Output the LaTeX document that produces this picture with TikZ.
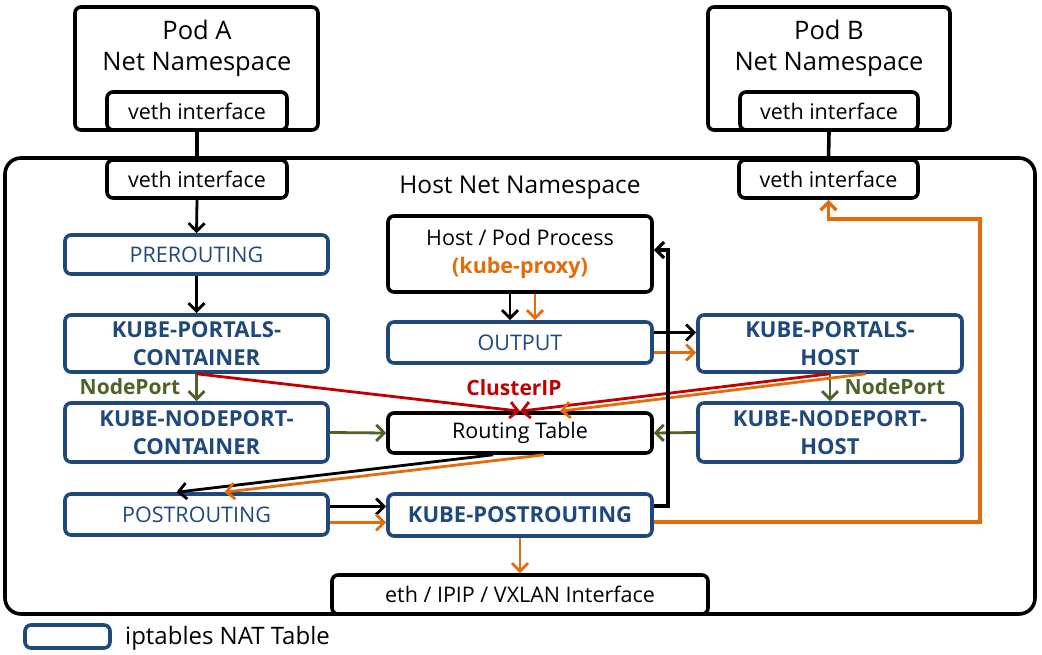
\documentclass[tikz,border=0pt]{standalone}
\usepackage{fontspec}
\setmainfont{Open Sans}
\usetikzlibrary{arrows.meta,calc}
\definecolor{natblue}{HTML}{1F497D}
\definecolor{orng}{HTML}{E46C0A}
\definecolor{redc}{HTML}{C00000}
\definecolor{grn}{HTML}{4F6228}
\begin{document}
\begin{tikzpicture}[x=1pt,y=-1pt,
  box/.style={draw=black, line width=3.6pt, rounded corners=6pt, fill=white, align=center, inner sep=0pt},
  natbox/.style={draw=natblue, line width=3.6pt, rounded corners=6pt, fill=white, text=natblue, align=center, inner sep=0pt},
  txt/.style={font=\fontsize{21.5}{26}\selectfont},
  btxt/.style={font=\fontsize{22}{28}\selectfont\bfseries},
  conn/.style={line width=2.8pt, -{Straight Barb[length=8pt,width=16pt]}},
  plain/.style={line width=3.6pt}
]
\useasboundingbox (0,0) rectangle (1042,655);
% pods
\node[box, minimum width=243pt, minimum height=123pt] (podA) at (196.5,68.5) {};
\node[font=\fontsize{25.5}{31}\selectfont, align=center] (podAlbl) at (197,48.5) {Pod A\\Net Namespace};
\node[box, txt, minimum width=180pt, minimum height=38pt] (podAveth) at (197,111) {veth interface};
\node[box, minimum width=242pt, minimum height=123pt] (podB) at (829,68.5) {};
\node[font=\fontsize{25.5}{31}\selectfont, align=center] (podBlbl) at (829,48.5) {Pod B\\Net Namespace};
\node[box, txt, minimum width=178pt, minimum height=38pt] (podBveth) at (829,111) {veth interface};
% host
\node[draw=black, line width=3.6pt, rounded corners=16pt, minimum width=1030pt, minimum height=456pt, inner sep=0pt] (host) at (520,386) {};
\node[font=\fontsize{24.5}{28}\selectfont] (hostlbl) at (520,188) {Host Net Namespace};
\node[box, txt, minimum width=180pt, minimum height=38pt] (vethA) at (197,179) {veth interface};
\node[box, txt, minimum width=179pt, minimum height=38pt] (vethB) at (828.5,179) {veth interface};
% left column
\node[natbox, txt, minimum width=263pt, minimum height=39pt] (pre) at (196.5,254.5) {PREROUTING};
\node[natbox, btxt, minimum width=263pt, minimum height=57pt] (kpc) at (196.5,343.5) {KUBE-PORTALS-\\CONTAINER};
\node[natbox, btxt, minimum width=263pt, minimum height=59pt] (knc) at (196.5,432.5) {KUBE-NODEPORT-\\CONTAINER};
\node[natbox, txt, minimum width=263pt, minimum height=41pt] (post) at (196.5,514.5) {POSTROUTING};
% middle column
\node[box, minimum width=264pt, minimum height=76pt, font=\fontsize{21.5}{28}\selectfont] (hp) at (520,254) {Host / Pod Process\\{\color{orng}\bfseries (kube-proxy)}};
\node[natbox, txt, minimum width=264pt, minimum height=41pt] (out) at (520,342.5) {OUTPUT};
\node[box, txt, minimum width=264pt, minimum height=40pt] (rt) at (520,433) {Routing Table};
\node[natbox, btxt, minimum width=264pt, minimum height=42pt] (kpost) at (520,515) {KUBE-POSTROUTING};
\node[box, txt, minimum width=376pt, minimum height=39pt] (eth) at (520,594.5) {eth / IPIP / VXLAN Interface};
% right column
\node[natbox, btxt, minimum width=264pt, minimum height=57pt] (kph) at (830,343.5) {KUBE-PORTALS-\\HOST};
\node[natbox, btxt, minimum width=264pt, minimum height=59pt] (knh) at (830,432.5) {KUBE-NODEPORT-\\HOST};
% labels
\node[text=grn, font=\fontsize{21}{24}\selectfont\bfseries] (np1) at (130,387) {NodePort};
\node[text=grn, font=\fontsize{21}{24}\selectfont\bfseries] (np2) at (895,387) {NodePort};
\node[text=redc, font=\fontsize{21}{24}\selectfont\bfseries] (cip) at (514,388) {ClusterIP};
% legend
\node[natbox, minimum width=85pt, minimum height=23pt] (leg) at (67.5,636.5) {};
\node[anchor=west, font=\fontsize{24}{28}\selectfont, inner sep=0pt] (leglbl) at (125,638) {iptables NAT Table};
% connectors
\draw[plain] (podAveth.south) -- (vethA.north);
\draw[plain] (podBveth.south) -- (vethB.north);
\draw[conn] (vethA.south) -- (pre.north);
\draw[conn] (pre.south) -- (kpc.north);
\draw[conn, grn] (kpc.south) -- (knc.north);
\draw[conn, grn] (kph.south) -- (knh.north);
\draw[conn, grn] (knc.east) -- (rt.west);
\draw[conn, grn] (knh.west) -- (rt.east);
\draw[conn] ([xshift=-10pt]hp.south) -- ([xshift=-10pt]out.north);
\draw[conn, orng] ([xshift=15pt]hp.south) -- ([xshift=15pt]out.north);
\draw[conn] ([yshift=10pt]out.east) -- ([yshift=10pt]out.east -| kph.west);
\draw[conn, orng] ([yshift=-10pt]out.east) -- ([yshift=-10pt]out.east -| kph.west);
\draw[conn, redc] (kpc.south) -- (rt.north);
\draw[conn, redc] (kph.south) -- (rt.north);
\draw[conn, orng] ([xshift=36pt]kph.south) -- ([xshift=40pt]rt.north);
\draw[conn] ([xshift=-27pt]rt.south) -- ([xshift=-20pt]post.north);
\draw[conn, orng] ([xshift=24pt]rt.south) -- ([xshift=28pt]post.north);
\draw[conn] ([yshift=8pt]post.east) -- ([yshift=8pt]post.east -| kpost.west);
\draw[conn, orng] ([yshift=-8pt]post.east) -- ([yshift=-8pt]post.east -| kpost.west);
\coordinate (bk) at (668,250);
\draw[conn, line width=3.2pt] ([yshift=9pt]kpost.east) -| (bk) -- (bk -| hp.east);
\coordinate (oc) at (980,219);
\draw[conn, orng, line width=3.4pt] ([yshift=-7pt]kpost.east) -| (oc) -| (vethB.south);
\draw[conn, orng] (kpost.south) -- (eth.north);
\end{tikzpicture}
\end{document}
